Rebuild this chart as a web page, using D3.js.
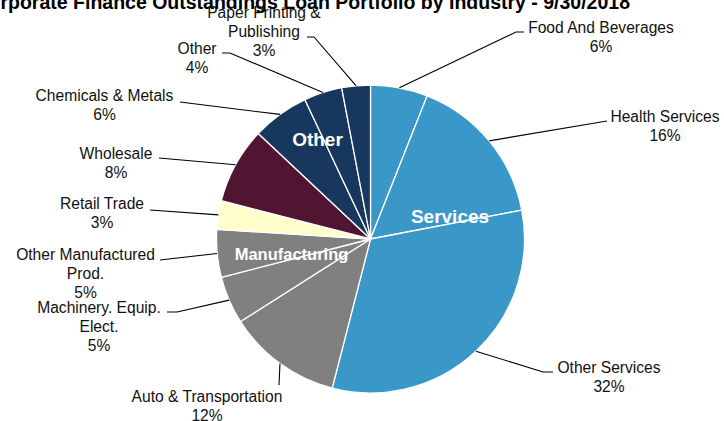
<!DOCTYPE html>
<html><head><meta charset="utf-8">
<script src="https://cdn.jsdelivr.net/npm/d3@7"></script>
<style>
html,body{margin:0;padding:0;background:#fff;overflow:hidden}
svg{display:block}
text{font-family:"Liberation Sans",Arial,sans-serif}
</style></head>
<body>
<svg id="chart" width="724" height="421"></svg>
<script>
// ---- data ----
const categories = ["Food And Beverages","Health Services","Other Services","Auto & Transportation",
  "Machinery. Equip. Elect.","Other Manufactured Prod.","Retail Trade","Wholesale",
  "Chemicals & Metals","Other","Paper Printing & Publishing"];
const values = [6,16,32,12,5,5,3,8,6,4,3];
const groups = ["Services","Services","Services","Manufacturing","Manufacturing","Manufacturing",
  "Retail","Wholesale","Other","Other","Other"];
const groupNames = ["Services","Manufacturing","Retail","Wholesale","Other"];
const groupLabels = ["Services","Manufacturing","Other"];
const title = "Corporate Finance Outstandings Loan Portfolio by Industry - 9/30/2018";

// ---- layout / style (kept separate from data) ----
const W = 724, H = 421;
const cx = 370.5, cy = 239, R = 154;
const colors = {Services:"#3998c8", Manufacturing:"#808080", Retail:"#ffffcc", Wholesale:"#511532", Other:"#17375e"};
// label text lines, block centre x, baseline of first line, elbow point, leader end
const labelLayout = [
  {lines:["Food And Beverages","6%"], bx:601, by:32.5, elbow:[516,32], end:[524,32]},
  {lines:["Health Services","16%"], bx:665, by:121.5, elbow:null, end:[607,121]},
  {lines:["Other Services","32%"], bx:609, by:373, elbow:[543,372], end:[553,372]},
  {lines:["Auto & Transportation","12%"], bx:207, by:402, elbow:null, end:[279,385]},
  {lines:["Machinery. Equip.","Elect.","5%"], bx:99, by:313, elbow:[177,312], end:[167,312]},
  {lines:["Other Manufactured","Prod.","5%"], bx:85.5, by:260, elbow:null, end:[160,260]},
  {lines:["Retail Trade","3%"], bx:102, by:209, elbow:null, end:[150,210]},
  {lines:["Wholesale","8%"], bx:116, by:159, elbow:null, end:[159,158]},
  {lines:["Chemicals & Metals","6%"], bx:104.5, by:101, elbow:null, end:[180,102]},
  {lines:["Other","4%"], bx:197, by:54, elbow:[230,53], end:[222,53]},
  {lines:["Paper Printing &","Publishing","3%"], bx:264, by:18, elbow:[314,37], end:[307,37]}
];
const lineH = 19;
const groupLabelLayout = [
  {x:450, y:223, size:19},
  {x:291.5, y:260, size:16.5},
  {x:317.5, y:146, size:19}
];

const svg = d3.select("#chart");

// title (partly cut off at the top, as in the reference)
svg.append("text").attr("x",630).attr("y",8.5).attr("text-anchor","end")
  .attr("font-size",19.5).attr("font-weight","bold").attr("fill","#000").text(title);

const pie = d3.pie().sort(null).value(d=>d.v);
const data = categories.map((c,i)=>({c, v:values[i], g:groups[i], i}));
const arcs = pie(data);
const arc = d3.arc().innerRadius(0).outerRadius(R);
const edge = d3.arc().innerRadius(R).outerRadius(R);

const gPie = svg.append("g").attr("transform",`translate(${cx},${cy})`);
gPie.selectAll("path.slice").data(arcs).join("path")
  .attr("class","slice")
  .attr("d",arc)
  .attr("fill",d=>colors[d.data.g])
  .attr("stroke","#fff").attr("stroke-width",1.3).attr("stroke-linejoin","round");

// leader lines + labels
const gL = svg.append("g");
arcs.forEach((d,i)=>{
  const L = labelLayout[i];
  const p = edge.centroid(d);
  const pts = [[cx+p[0], cy+p[1]]];
  if (L.elbow) pts.push(L.elbow);
  pts.push(L.end);
  gL.append("path").attr("d", d3.line()(pts)).attr("fill","none")
    .attr("stroke","#000").attr("stroke-width",1.1);
  const t = gL.append("text").attr("font-size",15.6).attr("fill","#111").attr("text-anchor","middle");
  L.lines.forEach((ln,k)=>{
    t.append("tspan").attr("x",L.bx).attr("y",L.by + k*lineH).text(ln);
  });
});

// group labels
groupLabels.forEach((g,i)=>{
  const L = groupLabelLayout[i];
  svg.append("text").attr("x",L.x).attr("y",L.y).attr("text-anchor","middle")
    .attr("font-size",L.size).attr("font-weight","bold").attr("fill","#fff").text(g);
});
</script>
</body></html>
